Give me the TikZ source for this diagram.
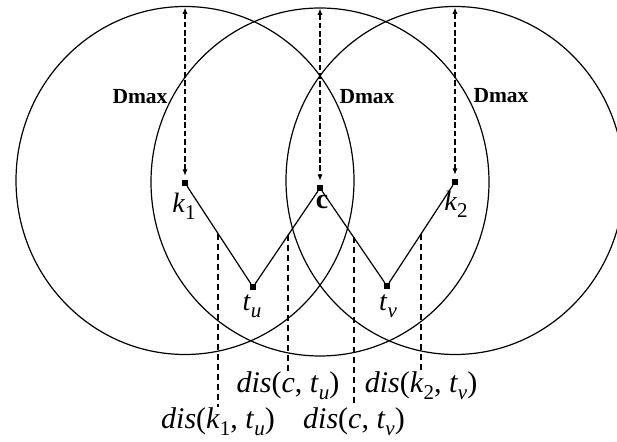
\documentclass[tikz,border=0pt]{standalone}
\usepackage{fontspec}
\setmainfont{Liberation Serif}
\usetikzlibrary{arrows.meta}
\newcommand{\lsub}[1]{\raisebox{-0.25em}{\fontsize{10.5pt}{11pt}\selectfont #1}}
\begin{document}
\begin{tikzpicture}[x=0.5pt,y=-0.5pt,
  ring/.style={draw, line width=0.6pt},
  dot/.style={fill, rectangle, inner sep=0pt, minimum size=2.8pt},
  edge/.style={line width=0.6pt},
  dmaxarrow/.style={dash pattern=on 2.8pt off 1.4pt, line width=0.65pt,
    {Latex[length=3.2pt,width=2.6pt]}-{Latex[length=3.2pt,width=2.6pt]}, shorten >=2pt},
  disline/.style={dash pattern=on 3pt off 2pt, line width=0.65pt},
  ptlabel/.style={font=\fontsize{14pt}{16pt}\selectfont, inner sep=0pt},
  dislabel/.style={font=\fontsize{15pt}{17pt}\selectfont, inner sep=0pt, below},
  dmaxlabel/.style={font=\fontsize{10.75pt}{12pt}\selectfont\bfseries, inner sep=0pt}]
\useasboundingbox (0,0) rectangle (617,442);
% circle centres
\coordinate (o1) at (185,180.5);
\coordinate (o2) at (320,182);
\coordinate (o3) at (455,180.5);
\draw[ring] (o1) ellipse [x radius=84.5pt, y radius=87pt];
\draw[ring] (o2) ellipse [x radius=84.5pt, y radius=87pt];
\draw[ring] (o3) ellipse [x radius=84.5pt, y radius=87pt];
% points
\node[dot] (k1) at (185,183) {};
\node[dot] (c) at (320,188) {};
\node[dot] (k2) at (455,182) {};
\node[dot] (tu) at (253,287) {};
\node[dot] (tv) at (387,286) {};
\draw[edge] (k1) -- (tu) -- (c) -- (tv) -- (k2);
% Dmax arrows
\coordinate (top1) at (185,7.5);
\coordinate (top2) at (320,8.5);
\coordinate (top3) at (455,7.5);
\draw[dmaxarrow] (top1) -- (k1);
\draw[dmaxarrow] (top2) -- (c);
\draw[dmaxarrow] (top3) -- (k2);
\node[dmaxlabel] (dm1) at (140,97) {Dmax};
\node[dmaxlabel] (dm2) at (367,97) {Dmax};
\node[dmaxlabel] (dm3) at (501,96) {Dmax};
% point labels
\node[ptlabel] (lk1) at (184,206) {\textit{k}\lsub{1}};
\node[ptlabel] (lc) at (322,202) {\textbf{c}};
\node[ptlabel] (lk2) at (456,204) {\textit{k}\lsub{2}};
\node[ptlabel] (ltu) at (252,306) {\textit{t}\lsub{\textit{u}}};
\node[ptlabel] (ltv) at (388,306) {\textit{t}\lsub{\textit{v}}};
% distance markers
\coordinate (d1) at (218,234);
\coordinate (e1) at (218,407);
\coordinate (d2) at (288,235);
\coordinate (e2) at (288,371);
\coordinate (d3) at (354,237.5);
\coordinate (e3) at (354,407);
\coordinate (d4) at (421,234);
\coordinate (e4) at (421,371);
\draw[disline] (d1) -- (e1) node[dislabel] (l1) {\textit{dis}(\textit{k}\lsub{1}, \textit{t}\lsub{\textit{u}})};
\draw[disline] (d2) -- (e2) node[dislabel] (l2) {\textit{dis}(\textit{c}, \textit{t}\lsub{\textit{u}})};
\draw[disline] (d3) -- (e3) node[dislabel] (l3) {\textit{dis}(\textit{c}, \textit{t}\lsub{\textit{v}})};
\draw[disline] (d4) -- (e4) node[dislabel] (l4) {\textit{dis}(\textit{k}\lsub{2}, \textit{t}\lsub{\textit{v}})};
\end{tikzpicture}
\end{document}
